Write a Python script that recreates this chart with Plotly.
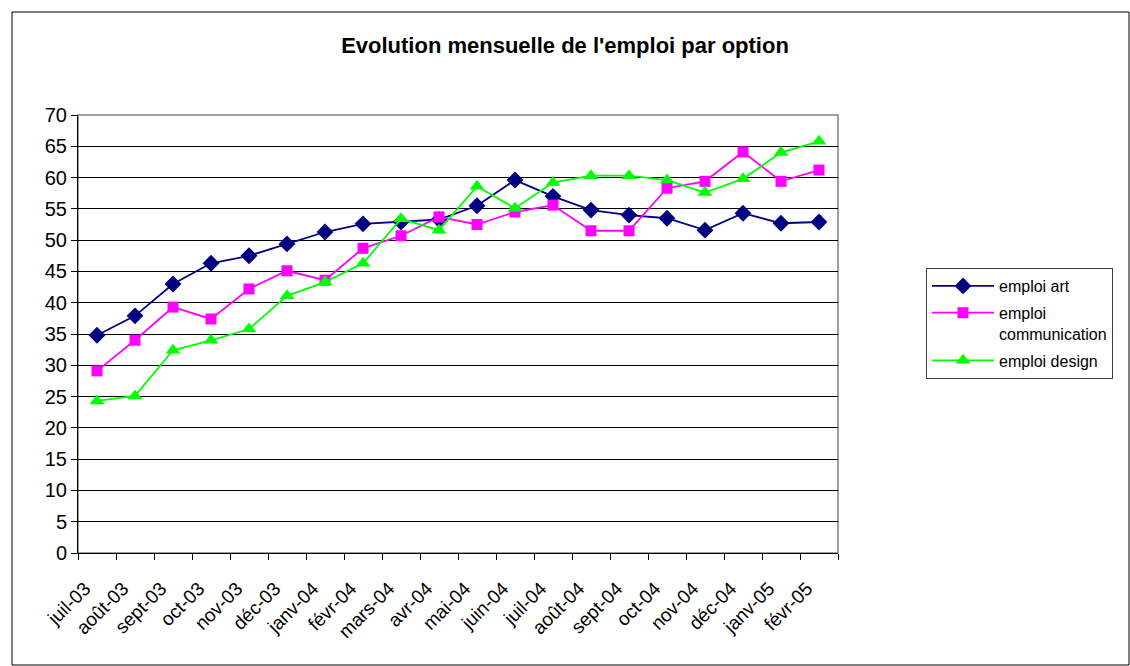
import plotly.graph_objects as go

months = ["juil-03", "août-03", "sept-03", "oct-03", "nov-03", "déc-03", "janv-04", "févr-04",
          "mars-04", "avr-04", "mai-04", "juin-04", "juil-04", "août-04", "sept-04", "oct-04",
          "nov-04", "déc-04", "janv-05", "févr-05"]
emploi_art = [34.8, 37.9, 43.0, 46.3, 47.5, 49.4, 51.3, 52.6, 52.9, 53.3, 55.5, 59.6, 57.0, 54.8,
              54.0, 53.5, 51.6, 54.3, 52.7, 52.9]
emploi_communication = [29.1, 34.0, 39.3, 37.4, 42.2, 45.1, 43.6, 48.7, 50.7, 53.7, 52.5, 54.5,
                        55.6, 51.5, 51.5, 58.3, 59.4, 64.1, 59.4, 61.2]
emploi_design = [24.3, 25.1, 32.4, 34.0, 35.8, 41.1, 43.3, 46.3, 53.4, 51.6, 58.6, 55.1, 59.2,
                 60.3, 60.3, 59.6, 57.6, 59.8, 64.0, 65.8]
y_ticks = list(range(0, 75, 5))

fig = go.Figure()
fig.add_trace(go.Scatter(x=months, y=emploi_art, name="emploi art", mode="lines+markers",
                         legendgroup="a",
                         line=dict(color="#000080", width=1.8),
                         marker=dict(symbol="diamond", size=13, color="#000080")))
fig.add_trace(go.Scatter(x=months, y=emploi_communication, name="emploi<br>communication",
                         mode="lines+markers", legendgroup="b",
                         line=dict(color="#FF00FF", width=1.8),
                         marker=dict(symbol="square", size=11, color="#FF00FF")))
fig.add_trace(go.Scatter(x=months, y=emploi_design, name="emploi design", mode="lines+markers",
                         legendgroup="c",
                         line=dict(color="#00FF00", width=1.8),
                         marker=dict(symbol="triangle-up", size=13, color="#00FF00")))

font = "Arial, Liberation Sans, sans-serif"
fig.update_layout(
    width=1130, height=666,
    margin=dict(l=78, r=292, t=115, b=113),
    paper_bgcolor="white", plot_bgcolor="white",
    font=dict(family=font, color="black"),
    title=dict(text="<b>Evolution mensuelle de l'emploi par option</b>", x=0.5, xref="container",
               xanchor="center", y=1 - 45 / 666, yref="container", yanchor="middle",
               font=dict(size=22, family=font, color="black")),
    xaxis=dict(type="category", categoryorder="array", categoryarray=months,
               range=[-0.5, 19.5], tickson="boundaries", ticks="outside", ticklen=6,
               tickcolor="black", showgrid=False, showline=True, linecolor="black", linewidth=1,
               tickangle=-45, tickfont=dict(size=19, family=font), zeroline=False,
               ticklabelstandoff=16, ticklabelshift=-12),
    yaxis=dict(range=[0, 70], tickvals=y_ticks, ticks="outside", ticklen=6, tickcolor="black",
               showgrid=True, gridcolor="black", gridwidth=1, showline=True, linecolor="black",
               linewidth=1, tickfont=dict(size=20, family=font), zeroline=False),
    legend=dict(x=(926 - 78) / 760, y=(553 - 268) / 438, xanchor="left", yanchor="top",
                bordercolor="#404040", borderwidth=1, bgcolor="white",
                font=dict(size=16, family=font), traceorder="grouped", tracegroupgap=3,
                valign="top", itemwidth=62),
    shapes=[
        dict(type="rect", xref="paper", yref="paper", x0=0, x1=1, y0=0, y1=1,
             line=dict(color="#808080", width=1.5), layer="below"),
        dict(type="rect", xref="paper", yref="paper", x0=(12 - 78) / 760, x1=(1129 - 78) / 760,
             y0=(553 - 665) / 438, y1=(553 - 12) / 438, line=dict(color="black", width=1)),
    ],
)

fig.write_html("out.html", post_script="document.body.style.margin='0';",
               config={"displayModeBar": False})
